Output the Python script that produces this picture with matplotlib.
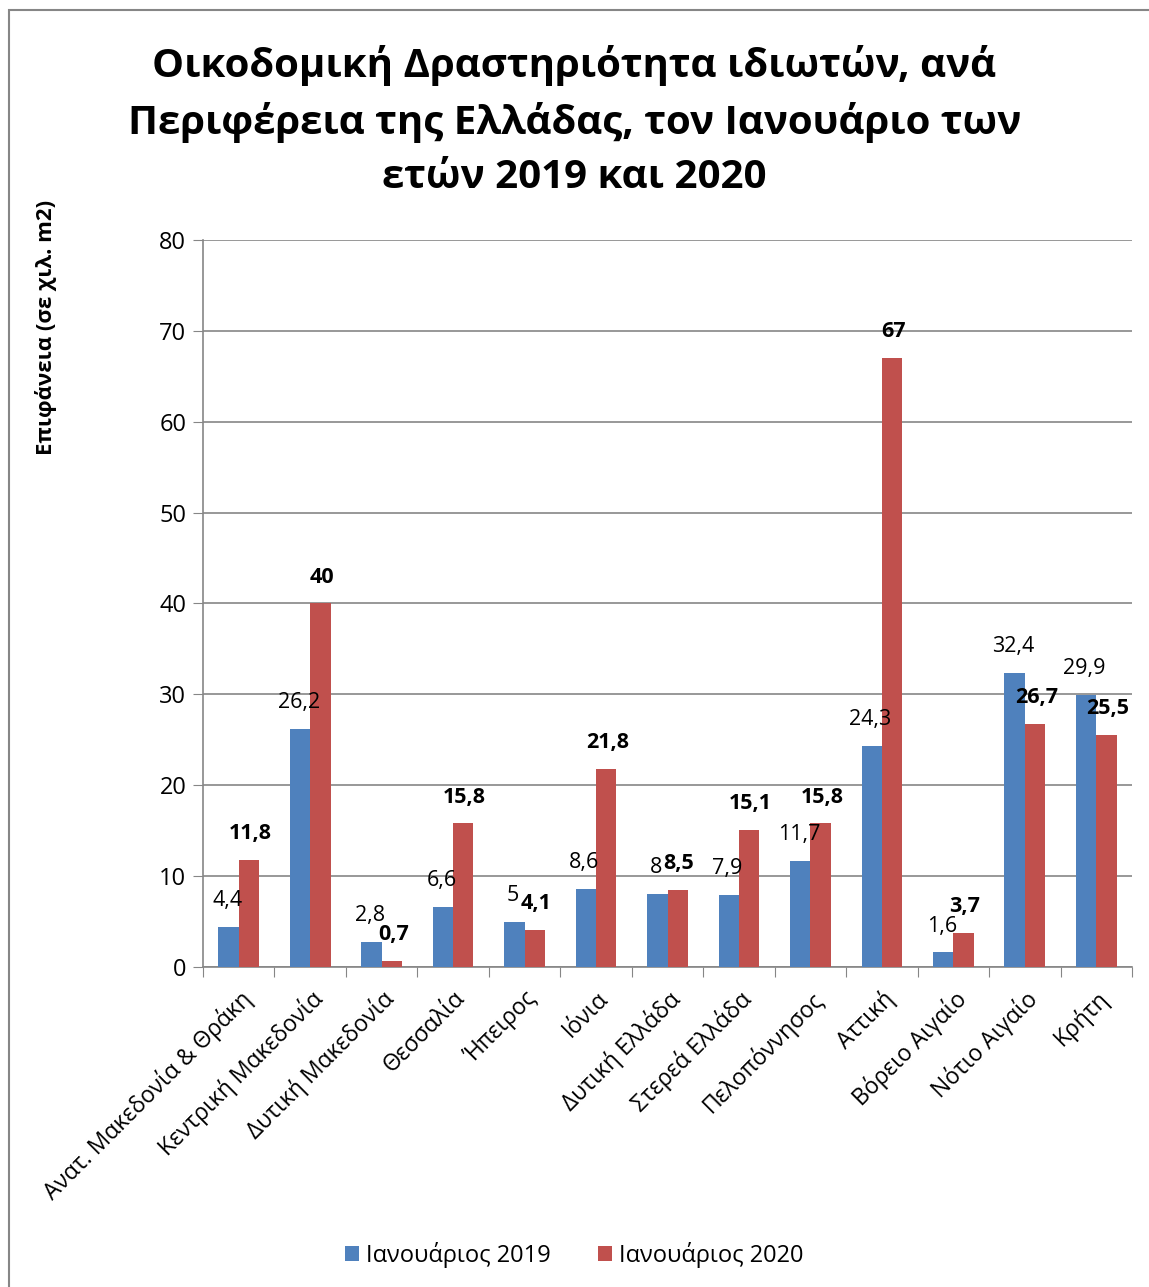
import numpy as np
import matplotlib
matplotlib.use('Agg')
from matplotlib import pyplot
from matplotlib.patches import Rectangle

pyplot.rcParams['font.family'] = ['Open Sans', 'DejaVu Sans']

regions = ['Ανατ. Μακεδονία & Θράκη', 'Κεντρική Μακεδονία', 'Δυτική Μακεδονία',
           'Θεσσαλία', 'Ήπειρος', 'Ιόνια', 'Δυτική Ελλάδα', 'Στερεά Ελλάδα',
           'Πελοπόννησος', 'Αττική', 'Βόρειο Αιγαίο', 'Νότιο Αιγαίο', 'Κρήτη']
jan_2019 = [4.4, 26.2, 2.8, 6.6, 5, 8.6, 8, 7.9, 11.7, 24.3, 1.6, 32.4, 29.9]
jan_2020 = [11.8, 40, 0.7, 15.8, 4.1, 21.8, 8.5, 15.1, 15.8, 67, 3.7, 26.7, 25.5]
series_names = ['Ιανουάριος 2019', 'Ιανουάριος 2020']

W, H = 1149, 1287
fig = pyplot.figure(figsize=(W / 100, H / 100), dpi=100)
ax = fig.add_axes([203 / W, 1 - 967 / H, (1132 - 203) / W, (967 - 240) / H])

x = np.arange(len(regions))
bw = 0.285
b1 = ax.bar(x - bw / 2, jan_2019, bw, color='#4F81BD', label=series_names[0], zorder=3)
b2 = ax.bar(x + bw / 2, jan_2020, bw, color='#C0504D', label=series_names[1], zorder=3)

def fmt(v):
    return ('%g' % v).replace('.', ',')

# подписи значений над столбцами
for rect, v in zip(b1, jan_2019):
    ax.annotate(fmt(v), (rect.get_x() + rect.get_width() / 2, v), xytext=(-1, 19),
                textcoords='offset points', ha='center', va='center', fontsize=15.5, zorder=5)
for rect, v in zip(b2, jan_2020):
    ax.annotate(fmt(v), (rect.get_x() + rect.get_width() / 2, v), xytext=(1, 19),
                textcoords='offset points', ha='center', va='center', fontsize=15.5,
                fontweight='bold', zorder=5)

ax.set_xlim(-0.5, len(regions) - 0.5)
ax.set_ylim(0, 80)
ax.set_yticks(range(0, 81, 10))
ax.set_xticks(np.arange(-0.5, len(regions), 1), minor=False)
ax.set_xticklabels([])
ax.set_xticks(x, minor=True)
ax.set_xticklabels(regions, minor=True, rotation=45, ha='right', va='top',
                   rotation_mode='anchor', fontsize=16.5)
ax.tick_params(axis='x', which='minor', length=0, pad=14)
ax.tick_params(axis='x', which='major', length=7, color='#868686')
ax.tick_params(axis='y', length=7, color='#868686', labelsize=17, pad=5)

ax.grid(axis='y', color='#868686', linewidth=1.2, zorder=0)
for s in ['top', 'right']:
    ax.spines[s].set_visible(False)
for s in ['left', 'bottom']:
    ax.spines[s].set_color('#868686')
    ax.spines[s].set_linewidth(1.2)

ax.set_ylabel('Επιφάνεια (σε χιλ. m2)', fontsize=16, fontweight='bold')
ax.yaxis.set_label_coords(-146 / (1132 - 203), (967 - 327) / (967 - 240))

fig.text(0.5, 1 - 121 / H, 'Οικοδομική Δραστηριότητα ιδιωτών, ανά\n'
         'Περιφέρεια της Ελλάδας, τον Ιανουάριο των\nετών 2019 και 2020',
         ha='center', va='center', fontsize=29, fontweight='bold', linespacing=1.5)

fig.legend(loc='center', bbox_to_anchor=(0.5, 1 - 1255 / H), ncol=2, frameon=False,
           fontsize=17, handlelength=0.6, handleheight=0.6, handletextpad=0.3,
           columnspacing=2.0)

fig.patches.append(Rectangle((9 / W, -0.05), 1.1, 1 - 10 / H + 0.05, transform=fig.transFigure,
                             fill=False, edgecolor='#868686', linewidth=1.5))

fig.savefig('out.png', dpi=100)
